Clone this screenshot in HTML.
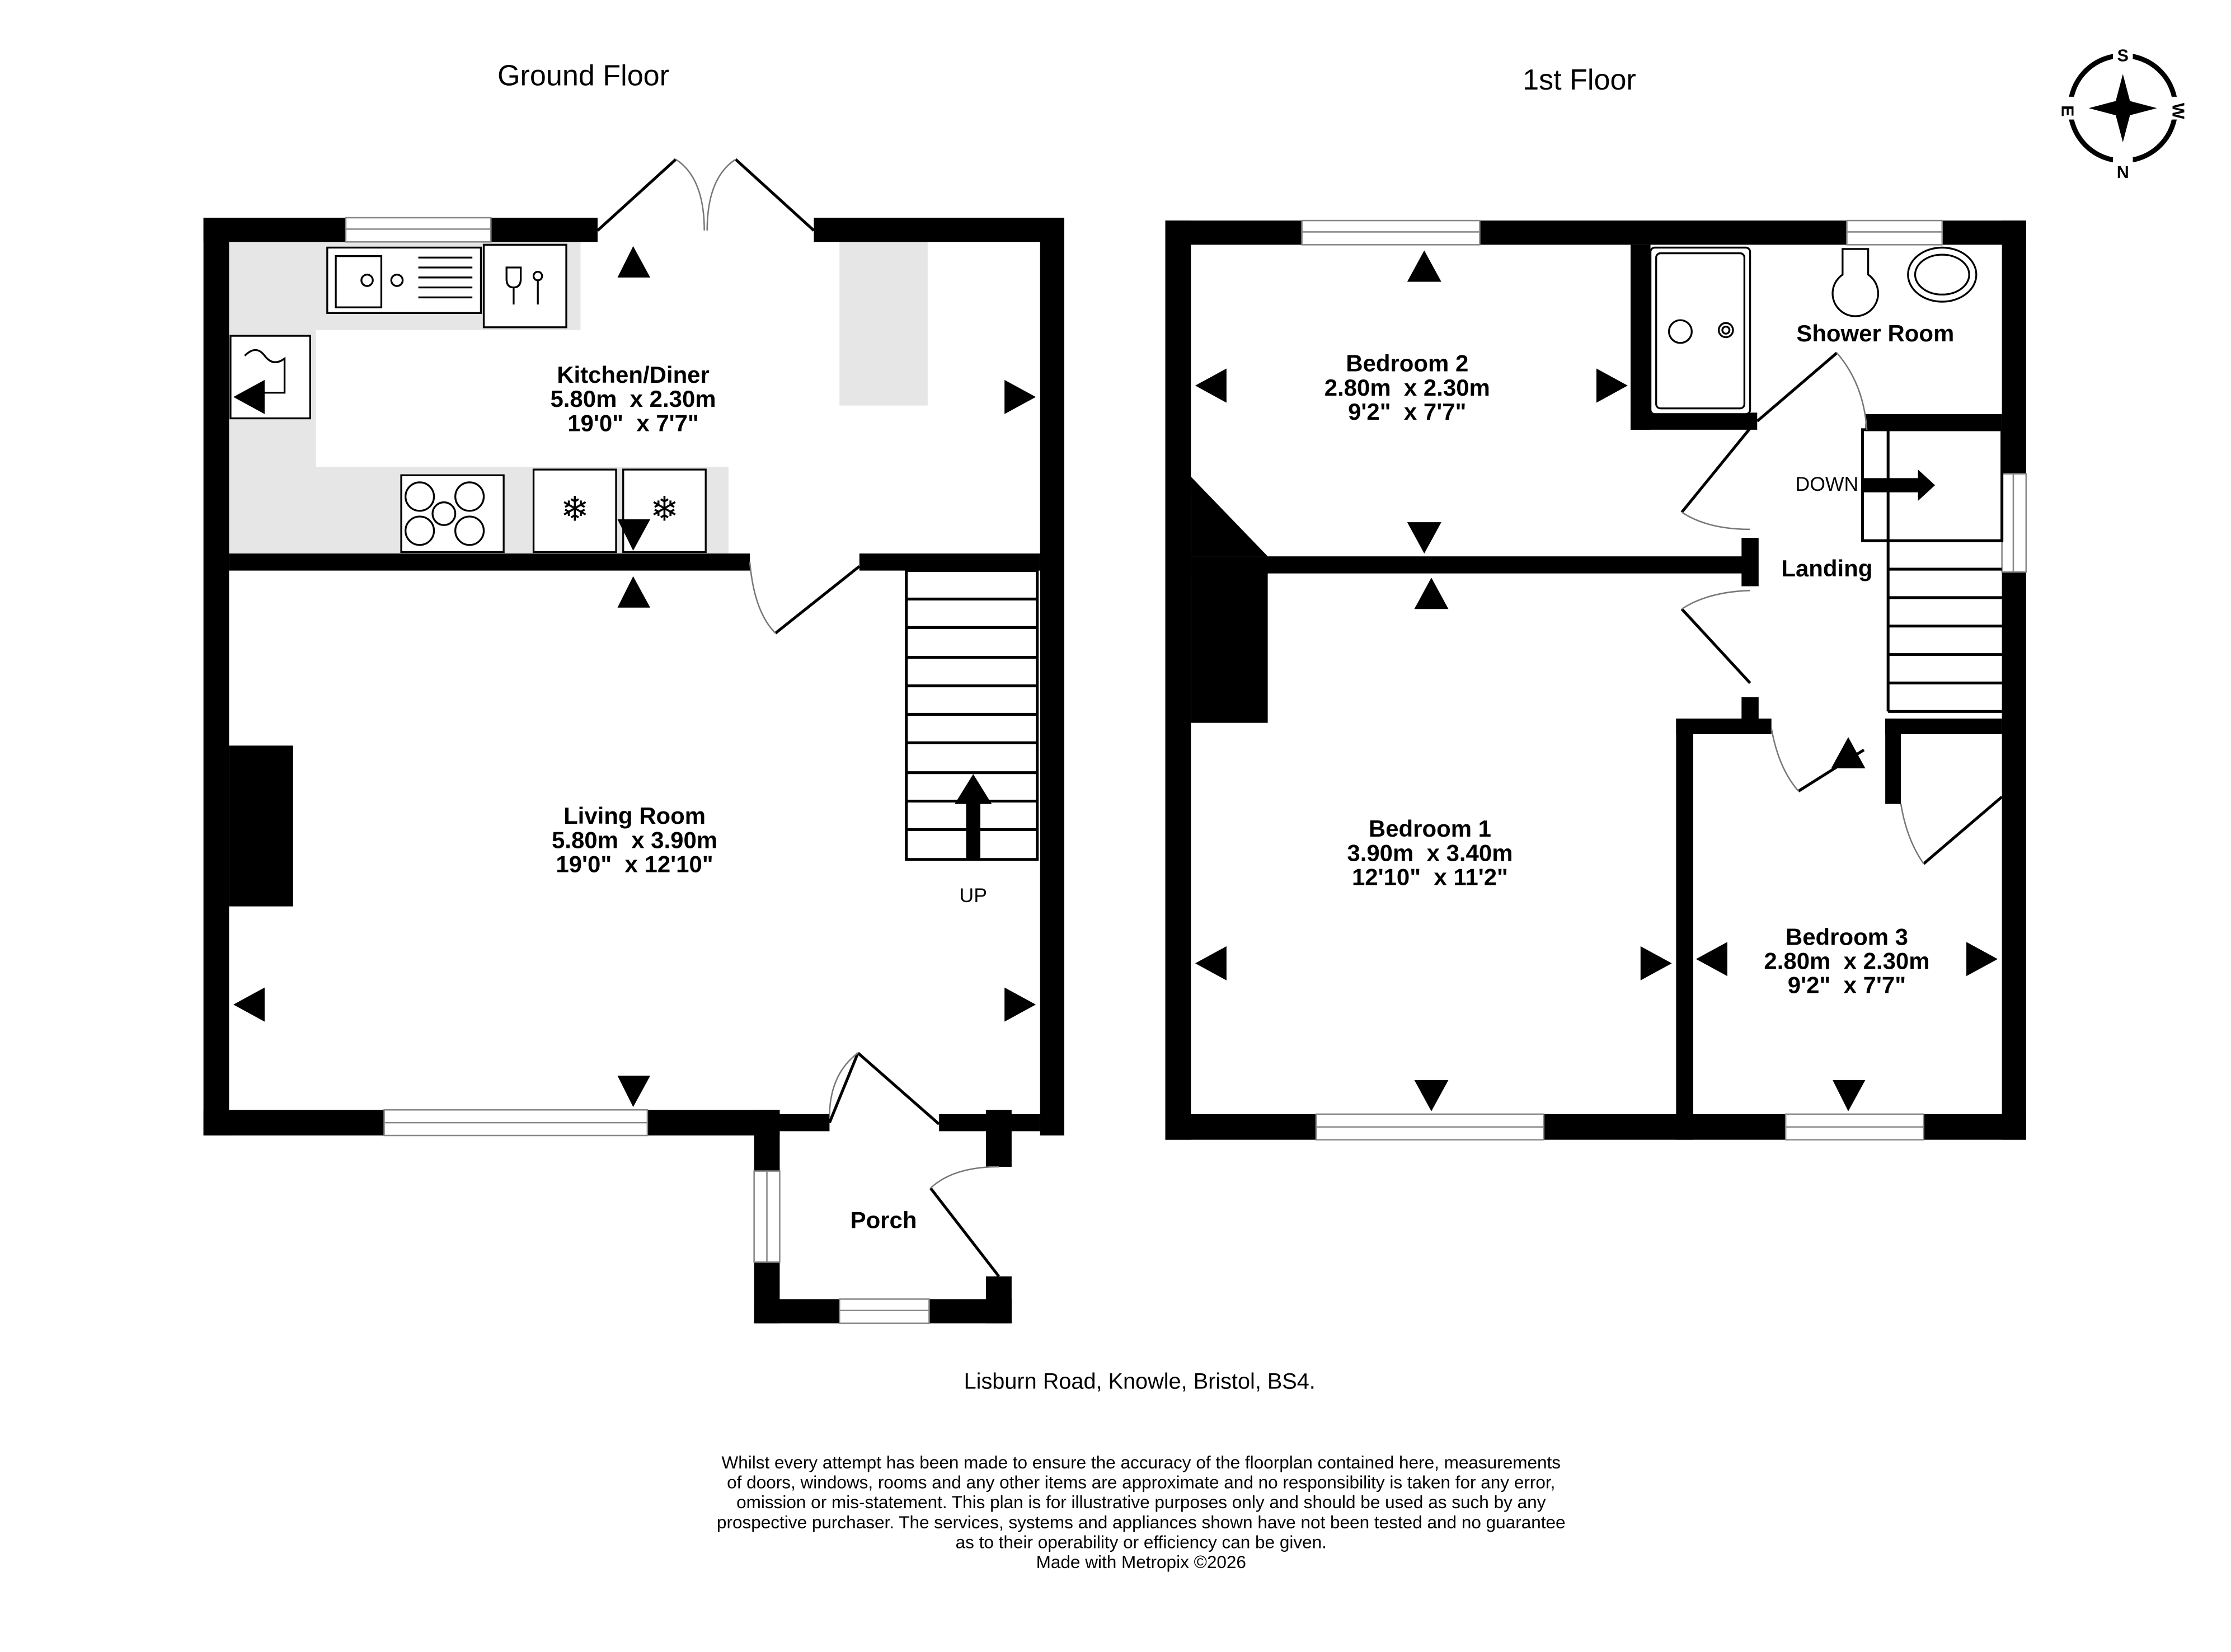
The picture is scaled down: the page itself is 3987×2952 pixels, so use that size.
<!DOCTYPE html>
<html><head><meta charset="utf-8"><style>
html,body{margin:0;padding:0;background:#fff}
svg{display:block}
text{font-family:"Liberation Sans",Arial,sans-serif;fill:#000;white-space:pre}
.b{font-weight:bold;font-size:16.5px}
</style></head><body>
<svg width="3987" height="2952" viewBox="0 0 1568 1161" preserveAspectRatio="none" xmlns="http://www.w3.org/2000/svg" xml:space="preserve">
<rect width="1568" height="1161" fill="#fff"/>
<text x="410" y="60" font-size="20.5" text-anchor="middle">Ground Floor</text>
<text x="1110" y="63" font-size="20.5" text-anchor="middle">1st Floor</text>

<g transform="translate(1492,76)">
<circle r="37" fill="none" stroke="#000" stroke-width="3.5"/>
<rect x="-7" y="-46" width="14" height="14" fill="#fff"/><rect x="-7" y="32" width="14" height="14" fill="#fff"/>
<rect x="32" y="-8" width="14" height="16" fill="#fff"/><rect x="-46" y="-8" width="14" height="16" fill="#fff"/>
<text x="0" y="-33" font-size="12" font-weight="bold" text-anchor="middle">S</text>
<text x="0" y="49" font-size="12" font-weight="bold" text-anchor="middle">N</text>
<text x="39" y="6" font-size="12" font-weight="bold" text-anchor="middle" transform="rotate(90 39 2)">W</text>
<text x="-39" y="6" font-size="12" font-weight="bold" text-anchor="middle" transform="rotate(90 -39 2)">E</text>
<path d="M0,-24 L5,-5 L24,0 L5,5 L0,24 L-5,5 L-24,0 L-5,-5Z" fill="#000"/>
</g>

<g fill="#e6e6e6">
<rect x="161" y="170" width="247" height="62"/>
<rect x="161" y="232" width="61" height="157"/>
<rect x="222" y="328" width="290" height="61"/>
<rect x="590" y="170" width="62" height="115"/>
</g>
<g fill="#000">
<rect x="143" y="153" width="100" height="17"/>
<rect x="345" y="153" width="75" height="17"/>
<rect x="572" y="153" width="176" height="17"/>
<rect x="143" y="153" width="18" height="645"/>
<rect x="731" y="153" width="17" height="645"/>
<rect x="143" y="780" width="127" height="18"/>
<rect x="455" y="780" width="93" height="18"/>
<rect x="161" y="389" width="366" height="12"/>
<rect x="604" y="389" width="127" height="12"/>
<rect x="161" y="524" width="45" height="113"/>
<rect x="530" y="780" width="18" height="43"/>
<rect x="530" y="887" width="18" height="43"/>
<rect x="530" y="913" width="60" height="17"/>
<rect x="653" y="913" width="58" height="17"/>
<rect x="548" y="783" width="35" height="12"/>
<rect x="660" y="783" width="71" height="12"/>
<rect x="693" y="780" width="18" height="40"/>
<rect x="693" y="897" width="18" height="33"/>
</g>
<g fill="#fff" stroke="#888" stroke-width="1">
<rect x="243" y="153" width="102" height="17"/><line x1="243" y1="161" x2="345" y2="161"/>
<rect x="270" y="780" width="185" height="18"/><line x1="270" y1="789" x2="455" y2="789"/>
<rect x="530" y="823" width="18" height="64"/><line x1="539" y1="823" x2="539" y2="887"/>
<rect x="590" y="913" width="63" height="17"/><line x1="590" y1="921" x2="653" y2="921"/>
</g>
<g fill="none" stroke="#000" stroke-width="2">
<path d="M420,162 L475,112"/><path d="M572,162 L517,112"/>
<path d="M604,398 L545,445"/>
<path d="M583,789 L603,740"/>
<path d="M603,740 L660,790"/>
<path d="M654,835 L702,897"/>
</g>
<g fill="none" stroke="#777" stroke-width="1">
<path d="M475,112 Q495,125 495,162"/><path d="M517,112 Q497,125 497,162"/>
<path d="M527,395 Q530,430 545,445"/>
<path d="M583,785 Q583,755 603,740"/>
<path d="M702,820 Q670,820 654,835"/>
</g>
<g fill="none" stroke="#000" stroke-width="2">
<rect x="637" y="401" width="92" height="203"/>
<line x1="637" y1="421" x2="729" y2="421"/><line x1="637" y1="441" x2="729" y2="441"/>
<line x1="637" y1="462" x2="729" y2="462"/><line x1="637" y1="482" x2="729" y2="482"/>
<line x1="637" y1="502" x2="729" y2="502"/><line x1="637" y1="522" x2="729" y2="522"/>
<line x1="637" y1="543" x2="729" y2="543"/><line x1="637" y1="563" x2="729" y2="563"/>
<line x1="637" y1="583" x2="729" y2="583"/>
</g>
<path d="M679,604 V565 H671 L684,544 L697,565 H689 V604Z" fill="#000"/>
<text x="684" y="634" font-size="14" text-anchor="middle">UP</text>
<g fill="#fff" stroke="#000" stroke-width="1.3">
<rect x="230" y="174" width="108" height="46"/><rect x="236" y="180" width="32" height="36"/>
<rect x="340" y="172" width="58" height="58"/>
<rect x="162" y="236" width="56" height="58"/>
<rect x="282" y="334" width="72" height="54"/>
<rect x="375" y="330" width="58" height="58"/><rect x="438" y="330" width="58" height="58"/>
</g>
<g fill="none" stroke="#000" stroke-width="1.3">
<circle cx="295" cy="349" r="10"/><circle cx="330" cy="349" r="10"/><circle cx="295" cy="373" r="10"/><circle cx="330" cy="373" r="10"/><circle cx="312" cy="361" r="8"/>
<line x1="294" y1="181" x2="332" y2="181"/><line x1="294" y1="188" x2="332" y2="188"/><line x1="294" y1="195" x2="332" y2="195"/><line x1="294" y1="202" x2="332" y2="202"/><line x1="294" y1="209" x2="332" y2="209"/>
<circle cx="258" cy="197" r="4"/><circle cx="279" cy="197" r="4"/>
<path d="M356,188 h10 v8 q0,6 -5,6 q-5,0 -5,-6z M361,202 v12"/><circle cx="378" cy="194" r="3"/><line x1="378" y1="197" x2="378" y2="214"/>
<path d="M172,250 q8,-8 14,0 q6,8 14,2 v24 h-20"/>
</g>
<text x="404" y="366" font-size="24" text-anchor="middle">❄</text>
<text x="467" y="366" font-size="24" text-anchor="middle">❄</text>

<g fill="#000">
<path d="M434,195 L445,173 L457,195Z"/>
<path d="M706,267 L728,279 L706,291Z"/>
<path d="M186,267 L164,279 L186,291Z"/>
<path d="M434,365 L445,387 L457,365Z"/>
<path d="M434,427 L445,405 L457,427Z"/>
<path d="M186,694 L164,706 L186,718Z"/>
<path d="M706,694 L728,706 L706,718Z"/>
<path d="M434,756 L445,778 L457,756Z"/>
</g>
<text x="445" y="269" class="b" text-anchor="middle">Kitchen/Diner</text>
<text x="445" y="286" class="b" text-anchor="middle">5.80m  x 2.30m</text>
<text x="445" y="303" class="b" text-anchor="middle">19'0"  x 7'7"</text>
<text x="446" y="579" class="b" text-anchor="middle">Living Room</text>
<text x="446" y="596" class="b" text-anchor="middle">5.80m  x 3.90m</text>
<text x="446" y="613" class="b" text-anchor="middle">19'0"  x 12'10"</text>
<text x="621" y="863" class="b" text-anchor="middle">Porch</text>

<g fill="#000">
<rect x="819" y="155" width="96" height="17"/>
<rect x="1040" y="155" width="258" height="17"/>
<rect x="1365" y="155" width="59" height="17"/>
<rect x="819" y="155" width="18" height="646"/>
<rect x="1407" y="155" width="17" height="178"/>
<rect x="1407" y="402" width="17" height="399"/>
<rect x="819" y="783" width="106" height="18"/>
<rect x="1085" y="783" width="170" height="18"/>
<rect x="1352" y="783" width="72" height="18"/>
<rect x="837" y="391" width="393" height="12"/>
<rect x="1224" y="378" width="12" height="34"/>
<path d="M837,335 L891,391 L837,391Z"/>
<rect x="837" y="391" width="54" height="117"/>
<rect x="1146" y="172" width="14" height="130"/>
<rect x="1146" y="290" width="89" height="12"/>
<rect x="1311" y="291" width="96" height="12"/>
<rect x="1178" y="505" width="67" height="11"/>
<rect x="1224" y="490" width="12" height="26"/>
<rect x="1178" y="505" width="12" height="296"/>
<rect x="1325" y="505" width="82" height="11"/>
<rect x="1325" y="505" width="11" height="60"/>
</g>
<g fill="#fff" stroke="#888" stroke-width="1">
<rect x="915" y="155" width="125" height="17"/><line x1="915" y1="163" x2="1040" y2="163"/>
<rect x="1298" y="155" width="67" height="17"/><line x1="1298" y1="163" x2="1365" y2="163"/>
<rect x="1407" y="333" width="17" height="69"/><line x1="1415" y1="333" x2="1415" y2="402"/>
<rect x="925" y="783" width="160" height="18"/><line x1="925" y1="792" x2="1085" y2="792"/>
<rect x="1255" y="783" width="97" height="18"/><line x1="1255" y1="792" x2="1352" y2="792"/>
</g>
<g fill="none" stroke="#000" stroke-width="2">
<rect x="1309" y="302" width="98" height="78"/>
<line x1="1327" y1="302" x2="1327" y2="500"/>
<line x1="1327" y1="400" x2="1407" y2="400"/><line x1="1327" y1="420" x2="1407" y2="420"/>
<line x1="1327" y1="440" x2="1407" y2="440"/><line x1="1327" y1="460" x2="1407" y2="460"/>
<line x1="1327" y1="480" x2="1407" y2="480"/><line x1="1327" y1="500" x2="1407" y2="500"/>
</g>
<path d="M1309,336 H1348 V330 L1360,341 L1348,352 V346 H1309Z" fill="#000"/>
<text x="1284" y="345" font-size="14" text-anchor="middle">DOWN</text>
<g fill="none" stroke="#000" stroke-width="2">
<path d="M1235,296 L1291,248"/>
<path d="M1230,301 L1182,360"/>
<path d="M1182,428 L1230,480"/>
<path d="M1264,556 L1310,527"/>
<path d="M1407,560 L1352,607"/>
</g>
<g fill="none" stroke="#777" stroke-width="1">
<path d="M1291,248 Q1310,270 1312,302"/>
<path d="M1182,360 Q1200,372 1230,372"/>
<path d="M1182,428 Q1200,416 1230,415"/>
<path d="M1245,512 Q1250,540 1264,556"/>
<path d="M1336,565 Q1340,590 1352,607"/>
</g>
<g fill="#fff" stroke="#000" stroke-width="1.3">
<rect x="1160" y="174" width="70" height="117" rx="3"/>
<rect x="1164" y="178" width="62" height="109" rx="3"/>
<circle cx="1181" cy="233" r="8"/><circle cx="1213" cy="232" r="5"/><circle cx="1213" cy="232" r="2.5"/>
<path d="M1295,175 h18 v18 a16,16 0 1 1 -18,0z"/>
<ellipse cx="1365" cy="193" rx="24" ry="19"/><ellipse cx="1365" cy="193" rx="19" ry="14"/>
</g>
<g fill="#000">
<path d="M989,198 L1001,176 L1013,198Z"/>
<path d="M862,259 L840,271 L862,283Z"/>
<path d="M1122,259 L1144,271 L1122,283Z"/>
<path d="M989,367 L1001,389 L1013,367Z"/>
<path d="M994,428 L1006,406 L1018,428Z"/>
<path d="M862,665 L840,677 L862,689Z"/>
<path d="M1153,665 L1175,677 L1153,689Z"/>
<path d="M994,759 L1006,781 L1018,759Z"/>
<path d="M1214,662 L1192,674 L1214,686Z"/>
<path d="M1382,662 L1404,674 L1382,686Z"/>
<path d="M1288,759 L1299,781 L1311,759Z"/>
<path d="M1287,540 L1299,518 L1311,540Z"/>
</g>
<text x="1318" y="240" class="b" text-anchor="middle">Shower Room</text>
<text x="1284" y="405" class="b" text-anchor="middle">Landing</text>
<text x="989" y="261" class="b" text-anchor="middle">Bedroom 2</text>
<text x="989" y="278" class="b" text-anchor="middle">2.80m  x 2.30m</text>
<text x="989" y="295" class="b" text-anchor="middle">9'2"  x 7'7"</text>
<text x="1005" y="588" class="b" text-anchor="middle">Bedroom 1</text>
<text x="1005" y="605" class="b" text-anchor="middle">3.90m  x 3.40m</text>
<text x="1005" y="622" class="b" text-anchor="middle">12'10"  x 11'2"</text>
<text x="1298" y="664" class="b" text-anchor="middle">Bedroom 3</text>
<text x="1298" y="681" class="b" text-anchor="middle">2.80m  x 2.30m</text>
<text x="1298" y="698" class="b" text-anchor="middle">9'2"  x 7'7"</text>

<text x="801" y="976" font-size="15.6" text-anchor="middle">Lisburn Road, Knowle, Bristol, BS4.</text>
<g font-size="12.4" text-anchor="middle">
<text x="802" y="1032">Whilst every attempt has been made to ensure the accuracy of the floorplan contained here, measurements</text>
<text x="802" y="1046">of doors, windows, rooms and any other items are approximate and no responsibility is taken for any error,</text>
<text x="802" y="1060">omission or mis-statement. This plan is for illustrative purposes only and should be used as such by any</text>
<text x="802" y="1074">prospective purchaser. The services, systems and appliances shown have not been tested and no guarantee</text>
<text x="802" y="1088">as to their operability or efficiency can be given.</text>
<text x="802" y="1102">Made with Metropix ©2026</text>
</g>
</svg>
</body></html>
